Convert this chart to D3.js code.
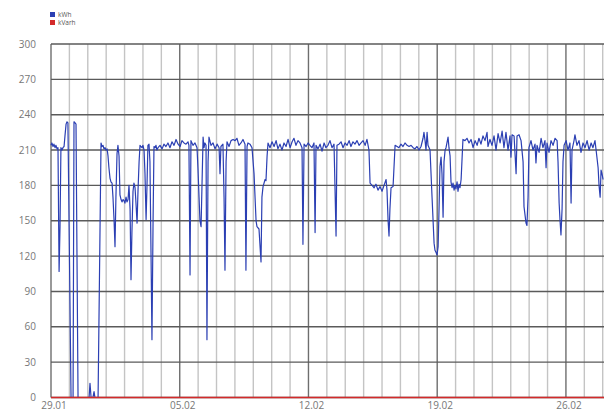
<!DOCTYPE html>
<html>
<head>
  <script src='https://d3js.org/d3.v7.min.js'></script>
  <style>
    body { margin: 0; background: #fff; }
    text { font-family: 'Open Sans', sans-serif; }
  </style>
</head>
<body>
  <svg id="canvas" width="604" height="411"></svg>
  <script>
    // time in days from 29.01 00:00, values in kWh
    const kwhDays = [
      0.00, 0.05, 0.11, 0.16, 0.22, 0.27, 0.33, 0.38, 0.44, 0.49, 0.54, 0.60, 0.65, 0.71, 0.76, 0.82, 0.87, 0.92,
      1.09, 1.20, 1.25, 1.31, 1.36, 1.47, 2.07, 2.12, 2.18, 2.28, 2.34, 2.39, 2.56, 2.72,
      2.77, 2.83, 2.88, 2.94, 2.99, 3.05, 3.10, 3.15, 3.21, 3.26, 3.32, 3.37, 3.43, 3.48, 3.53, 3.59, 3.64, 3.70,
      3.75, 3.81, 3.86, 3.92, 3.97, 4.02, 4.08, 4.13, 4.19, 4.24, 4.30, 4.35, 4.40, 4.46, 4.51, 4.57, 4.62, 4.68,
      4.73, 4.79, 4.84, 4.89, 4.95, 5.00, 5.06, 5.11, 5.17, 5.22, 5.27, 5.33, 5.38, 5.44, 5.49, 5.55, 5.60, 5.66,
      5.71, 5.76,
      5.82, 5.93, 6.04, 6.14, 6.25, 6.36, 6.47, 6.58, 6.69, 6.80, 6.91, 7.02, 7.12, 7.23, 7.34, 7.45, 7.50, 7.56,
      7.61, 7.72, 7.83, 7.94, 7.99, 8.05, 8.10, 8.16, 8.21, 8.27, 8.32, 8.37, 8.43, 8.48, 8.54, 8.59, 8.70, 8.81,
      8.92, 9.03, 9.14, 9.19, 9.24, 9.35, 9.41, 9.46, 9.52, 9.57, 9.68, 9.79, 9.90, 10.01, 10.11, 10.22, 10.33,
      10.44, 10.55, 10.60, 10.66, 10.71, 10.82, 10.93, 11.04, 11.15, 11.20, 11.31, 11.42, 11.47, 11.53, 11.64,
      11.69, 11.75, 11.80,
      11.91, 12.02, 12.13, 12.24, 12.34, 12.45, 12.56, 12.67, 12.78, 12.89, 13.00, 13.11, 13.21, 13.32, 13.43,
      13.54, 13.65, 13.70, 13.76, 13.87, 13.98, 14.08, 14.19, 14.30, 14.36, 14.41, 14.52, 14.63, 14.74, 14.85,
      14.95, 15.06, 15.17, 15.28, 15.39, 15.44, 15.50, 15.55, 15.66, 15.77, 15.88, 15.99, 16.10, 16.21, 16.31,
      16.42, 16.53, 16.64, 16.75, 16.86, 16.97, 17.08, 17.18, 17.29, 17.35, 17.46, 17.57, 17.67, 17.78, 17.89,
      18.00, 18.11, 18.22, 18.27, 18.33, 18.38, 18.43, 18.49, 18.60, 18.65, 18.71,
      18.82, 18.92, 19.03, 19.14, 19.25, 19.36, 19.47, 19.58, 19.69, 19.79, 19.90, 20.01, 20.12, 20.23, 20.28,
      20.34, 20.39, 20.45, 20.50, 20.61, 20.72, 20.83, 20.88, 20.94, 20.99, 21.05, 21.10, 21.15, 21.21, 21.26,
      21.32, 21.37, 21.43, 21.48, 21.59, 21.64, 21.70, 21.75, 21.81, 21.86, 21.92, 21.97, 22.02, 22.08, 22.13,
      22.19, 22.24, 22.30, 22.40, 22.51, 22.62, 22.73, 22.84, 22.95, 23.06, 23.17, 23.27, 23.38, 23.49, 23.60,
      23.71, 23.76, 23.87,
      23.98, 24.09, 24.20, 24.31, 24.42, 24.53, 24.63, 24.74, 24.85, 24.96, 25.01, 25.07, 25.18, 25.29, 25.34,
      25.45, 25.56, 25.67, 25.72, 25.83, 25.88, 25.94, 25.99, 26.10, 26.21, 26.32, 26.37, 26.43, 26.54, 26.65,
      26.75, 26.86, 26.92, 26.97, 27.08, 27.19, 27.30, 27.41, 27.52, 27.57, 27.63, 27.68, 27.73, 27.79, 27.84,
      27.90, 28.01, 28.11, 28.22, 28.28, 28.33, 28.44, 28.49, 28.60, 28.71, 28.82, 28.93, 29.04, 29.15, 29.26,
      29.37, 29.47, 29.58, 29.64, 29.75, 29.80, 29.86, 29.91, 29.96, 30.02
    ];
    const kwhValues = [
      214, 216, 213, 215, 212, 214, 211, 212, 107, 145, 212, 210, 212, 213, 222, 232, 234, 233,
      0, 0, 234, 233, 232, 0, 0, 12, 0, 0, 5, 0, 0, 216,
      213, 214, 211, 212, 210, 211, 205, 195, 186, 183, 182, 170, 150, 128, 170, 207, 214, 205,
      172, 168, 166, 168, 167, 165, 170, 166, 168, 180, 160, 100, 140, 175, 182, 178, 165, 148,
      175, 200, 214, 213, 212, 214, 210, 190, 151, 180, 214, 215, 200, 120, 49, 150, 213, 212,
      214, 210,
      212, 214, 211, 215, 213, 216, 212, 217, 214, 219, 215, 213, 218, 216, 215, 217, 214, 104,
      218, 214, 216, 212, 195, 170, 150, 145, 180, 221, 212, 216, 214, 49, 200, 221, 214, 216,
      211, 215, 212, 190, 213, 215, 170, 108, 200, 217, 213, 218, 219, 218, 220, 214, 216,
      219, 215, 108, 213, 216, 215, 212, 190, 150, 145, 143, 115, 170, 179, 185,
      184, 205, 216,
      212, 217, 213, 218, 211, 215, 210, 216, 213, 219, 212, 217, 220, 214, 218,
      216, 212, 130, 215, 213, 216, 214, 212, 216, 140, 214, 211, 215, 209, 216,
      212, 214, 218, 212, 215, 180, 137, 214, 215, 217, 212, 216, 214, 218, 213,
      217, 215, 218, 214, 216, 218, 214, 219, 210, 182, 180, 178, 181, 176, 179,
      175, 180, 185, 176, 150, 137, 160, 178, 179, 195, 214,
      213, 212, 215, 213, 216, 214, 213, 214, 212, 211, 213, 210, 213, 220, 225,
      218, 210, 225, 214, 210, 170, 131, 125, 123, 121, 128, 160, 196, 204, 190,
      153, 200, 210, 212, 221, 212, 205, 183, 178, 182, 176, 180, 177, 183, 175,
      181, 178, 185, 219, 218, 220, 216, 219, 212, 218, 214, 220, 215, 222, 218,
      225, 213, 219,
      214, 222, 210, 224, 216, 226, 212, 225, 210, 222, 204, 223, 222, 190, 222,
      223, 218, 200, 162, 148, 146, 170, 212, 218, 210, 215, 199, 214, 208, 220,
      212, 218, 195, 216, 208, 218, 214, 220, 218, 200, 165, 150, 138, 160, 200,
      214, 218, 210, 216, 165, 210, 218, 223, 214, 218, 208, 216, 212, 218, 210,
      216, 212, 218, 210, 195, 180, 170, 193, 190, 185
    ];
    const kvarhDays = [0, 30.07];
    const kvarhValues = [0, 0];

    const yTicks = [0, 30, 60, 90, 120, 150, 180, 210, 240, 270, 300];
    const xTickLabels = ['29.01', '05.02', '12.02', '19.02', '26.02'];
    const seriesNames = ['kWh', 'kVarh'];
    const seriesColors = ['#2b3fb3', '#d42a2a'];

    const start = new Date(2019, 0, 29);
    const dayMs = 86400000;
    const toDate = d => new Date(start.getTime() + d * dayMs);

    const svg = d3.select('svg#canvas');
    const margins = { top: 44, right: 0, bottom: 13, left: 51 };
    const width = 604, height = 411;

    const xScale = d3.scaleTime()
      .domain([start, toDate(30.07)])
      .range([margins.left, width - margins.right]);
    const yScale = d3.scaleLinear()
      .domain([0, 300])
      .range([height - margins.bottom - 0.5, margins.top]);

    // daily vertical gridlines
    const days = d3.timeDay.range(start, toDate(30.07));
    svg.append('g').selectAll('line')
      .data(days)
      .join('line')
      .attr('x1', d => xScale(d)).attr('x2', d => xScale(d))
      .attr('y1', yScale(300)).attr('y2', yScale(0))
      .attr('stroke', (d, i) => i % 7 === 0 ? '#6e6e6e' : '#c4c4c4')
      .attr('stroke-width', 1.4);

    // horizontal gridlines
    svg.append('g').selectAll('line')
      .data(yTicks)
      .join('line')
      .attr('x1', margins.left).attr('x2', width)
      .attr('y1', d => yScale(d)).attr('y2', d => yScale(d))
      .attr('stroke', '#5a5a5a')
      .attr('stroke-width', 1.4);

    // y labels
    svg.append('g').selectAll('text')
      .data(yTicks)
      .join('text')
      .attr('x', 36)
      .attr('y', d => yScale(d) + 3.5)
      .attr('text-anchor', 'end')
      .attr('fill', '#777')
      .style('font-size', '10px')
      .text(d => d);

    // x labels, one per week
    svg.append('g').selectAll('text')
      .data(xTickLabels)
      .join('text')
      .attr('x', (d, i) => xScale(d3.timeDay.offset(start, i * 7)) + 3)
      .attr('y', 409)
      .attr('text-anchor', 'middle')
      .attr('fill', '#777')
      .style('font-size', '10px')
      .text(d => d);

    const line = d3.line()
      .x(d => xScale(toDate(d[0])))
      .y(d => yScale(d[1]));

    svg.append('path')
      .datum(d3.zip(kwhDays, kwhValues))
      .attr('d', line)
      .attr('fill', 'none')
      .attr('stroke', seriesColors[0])
      .attr('stroke-width', 1.2)
      .attr('stroke-linejoin', 'round');

    svg.append('path')
      .datum(d3.zip(kvarhDays, kvarhValues))
      .attr('d', line)
      .attr('fill', 'none')
      .attr('stroke', seriesColors[1])
      .attr('stroke-width', 1.6);

    // legend
    const legend = svg.append('g');
    seriesNames.forEach((name, i) => {
      legend.append('rect')
        .attr('x', 50).attr('y', 12 + i * 8)
        .attr('width', 5).attr('height', 5)
        .attr('fill', seriesColors[i]);
      legend.append('text')
        .attr('x', 58).attr('y', 17 + i * 8)
        .attr('fill', '#555')
        .style('font-size', '6.5px')
        .text(name);
    });
  </script>
</body>
</html>
